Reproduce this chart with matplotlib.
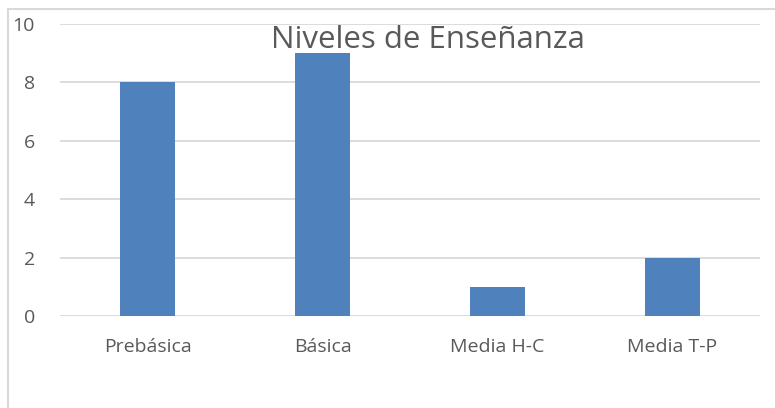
import matplotlib.pyplot as plt
from matplotlib.patches import Rectangle

categories = ['Prebásica', 'Básica', 'Media H-C', 'Media T-P']
values = [8, 9, 1, 2]
yticks = [0, 2, 4, 6, 8, 10]

plt.rcParams['font.family'] = ['Open Sans', 'DejaVu Sans']

fig = plt.figure(figsize=(7.75, 4.08), dpi=100)
# chart frame, extends past the right and bottom edges
fig.patches.append(Rectangle((8 / 775, -0.1), 1.0, 1 - 9 / 408 + 0.1,
                             transform=fig.transFigure, fill=False,
                             edgecolor='#d9d9d9', linewidth=1.5))

ax = fig.add_axes([60 / 775, 1 - 316 / 408, 700 / 775, (316 - 24) / 408])
x = range(len(categories))
ax.bar(x, values, width=0.31, color='#4f81bd', zorder=3)
ax.set_xlim(-0.5, len(categories) - 0.5)
ax.set_ylim(0, 10)
ax.set_yticks(yticks)
ax.set_xticks(list(x))
ax.set_xticklabels(categories)
ax.grid(axis='y', color='#d9d9d9', linewidth=1.3, zorder=0)
for s in ax.spines.values():
    s.set_visible(False)
ax.tick_params(length=0, colors='#595959', labelsize=14)
ax.tick_params(axis='y', pad=18)
ax.tick_params(axis='x', pad=16)

fig.text(428 / 775, 1 - 40 / 408, 'Niveles de Enseñanza', ha='center', va='center',
         fontsize=22.5, color='#595959')

fig.savefig('out.png', dpi=100)
